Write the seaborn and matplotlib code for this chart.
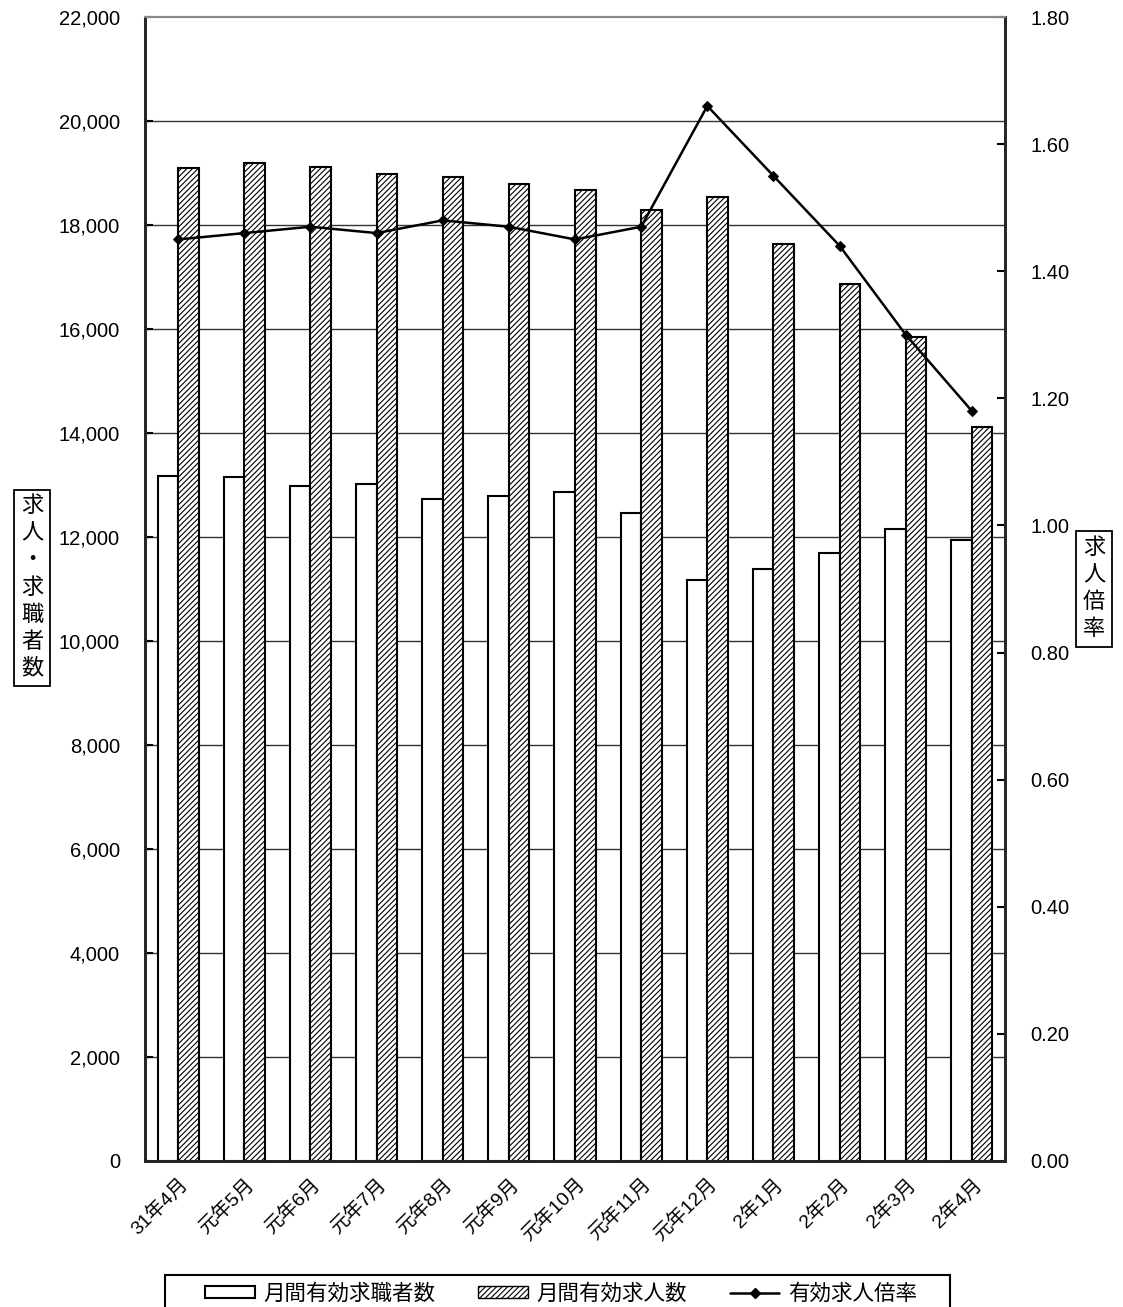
import matplotlib
matplotlib.use('Agg')
import matplotlib.pyplot as plt
from matplotlib.patches import Patch, Rectangle
from matplotlib.lines import Line2D
from matplotlib.ticker import FuncFormatter, MultipleLocator, FixedLocator
import seaborn as sns
import pandas as pd
import numpy as np

months = ['31年4月', '元年5月', '元年6月', '元年7月', '元年8月', '元年9月', '元年10月',
          '元年11月', '元年12月', '2年1月', '2年2月', '2年3月', '2年4月']
seekers = [13170, 13160, 12980, 13010, 12740, 12790, 12870, 12470, 11180, 11380, 11690, 12150, 11940]
openings = [19090, 19200, 19120, 18980, 18920, 18790, 18670, 18280, 18540, 17640, 16870, 15840, 14120]
ratio = [1.45, 1.46, 1.47, 1.46, 1.48, 1.47, 1.45, 1.47, 1.66, 1.55, 1.44, 1.30, 1.18]
series_names = ['月間有効求職者数', '月間有効求人数', '有効求人倍率']

sns.set_style('white', rc={'text.color': 'black', 'xtick.color': 'black', 'ytick.color': 'black'})
plt.rcParams['font.family'] = ['Liberation Sans', 'Noto Sans CJK JP', 'DejaVu Sans']
plt.rcParams['hatch.linewidth'] = 0.8

df = pd.DataFrame({
    'month': months * 2,
    'value': seekers + openings,
    'series': [series_names[0]] * len(months) + [series_names[1]] * len(months),
})

fig = plt.figure(figsize=(11.23, 13.07), dpi=100)
ax = fig.add_axes([145 / 1123, 1 - 1161 / 1307, 860 / 1123, 1144 / 1307])

sns.barplot(data=df, x='month', y='value', hue='series', order=months,
            palette=['white', 'white'], edgecolor='black', linewidth=1.5,
            width=0.62, gap=0, ax=ax, legend=False, zorder=2)
for bar in ax.containers[1]:
    bar.set_hatch('//////')

ax.set_ylim(0, 22000)
ax.set_xlim(-0.5, len(months) - 0.5)
ax.yaxis.set_major_locator(MultipleLocator(2000))
ax.yaxis.set_major_formatter(FuncFormatter(lambda v, p: f'{int(v):,}'))
for v in range(2000, 22000, 2000):
    ax.axhline(v, color='#333333', lw=1.0, zorder=0)
ax.set_xlabel('')
ax.set_ylabel('')
ax.tick_params(axis='y', direction='in', length=6, width=1.5, pad=18, labelsize=14.5)
ax.tick_params(axis='x', length=0, pad=10, labelsize=14)
ax.xaxis.set_minor_locator(FixedLocator(np.arange(-0.5, len(months), 1)))
ax.tick_params(axis='x', which='minor', direction='in', length=5, width=1.2)
for lab in ax.get_xticklabels():
    lab.set_rotation(45)
    lab.set_ha('right')
    lab.set_va('top')
    lab.set_rotation_mode('anchor')

ax2 = ax.twinx()
sns.lineplot(x=np.arange(len(months)), y=ratio, ax=ax2, color='black', lw=1.8,
             marker='D', markersize=5, markeredgecolor='black', zorder=5)
ax2.set_ylim(0, 1.8)
ax2.yaxis.set_major_locator(MultipleLocator(0.2))
ax2.yaxis.set_major_formatter(FuncFormatter(lambda v, p: f'{v:.2f}'))
ax2.tick_params(axis='y', direction='in', length=6, width=1.5, pad=18, labelsize=14.5)

for a in (ax, ax2):
    a.spines['left'].set_linewidth(2)
    a.spines['right'].set_linewidth(2)
    a.spines['bottom'].set_linewidth(2)
    a.spines['top'].set_color('#888888')
    a.spines['top'].set_linewidth(1.5)

box = dict(boxstyle='square,pad=0.3', fc='white', ec='black', lw=1.3)
fig.text(32 / 1123, 1 - 588 / 1307, '求\n人\n・\n求\n職\n者\n数', ha='center', va='center',
         fontsize=16, linespacing=1.38, bbox=box)
fig.text(1094 / 1123, 1 - 589 / 1307, '求\n人\n倍\n率', ha='center', va='center',
         fontsize=16, linespacing=1.38, bbox=box)

# legend frame drawn by hand, runs past the bottom edge like the original
fig.patches.append(Rectangle((165 / 1123, -0.01), (950 - 165) / 1123, 1.01 - 1275 / 1307,
                             transform=fig.transFigure, fc='white', ec='black', lw=1.5))
handles = [Patch(facecolor='white', edgecolor='black', lw=1.5),
           Patch(facecolor='white', edgecolor='black', lw=1.0, hatch='//////'),
           Line2D([0], [0], color='black', lw=1.8, marker='D', markersize=5)]
leg = fig.legend(handles, series_names, loc='center left', bbox_to_anchor=(205 / 1123, 1 - 1294 / 1307),
                 ncol=3, fontsize=15.5, frameon=False, handlelength=2.3, handleheight=0.46,
                 handletextpad=0.4, columnspacing=2.0, borderaxespad=0, borderpad=0)

fig.savefig('out.png', dpi=100)
